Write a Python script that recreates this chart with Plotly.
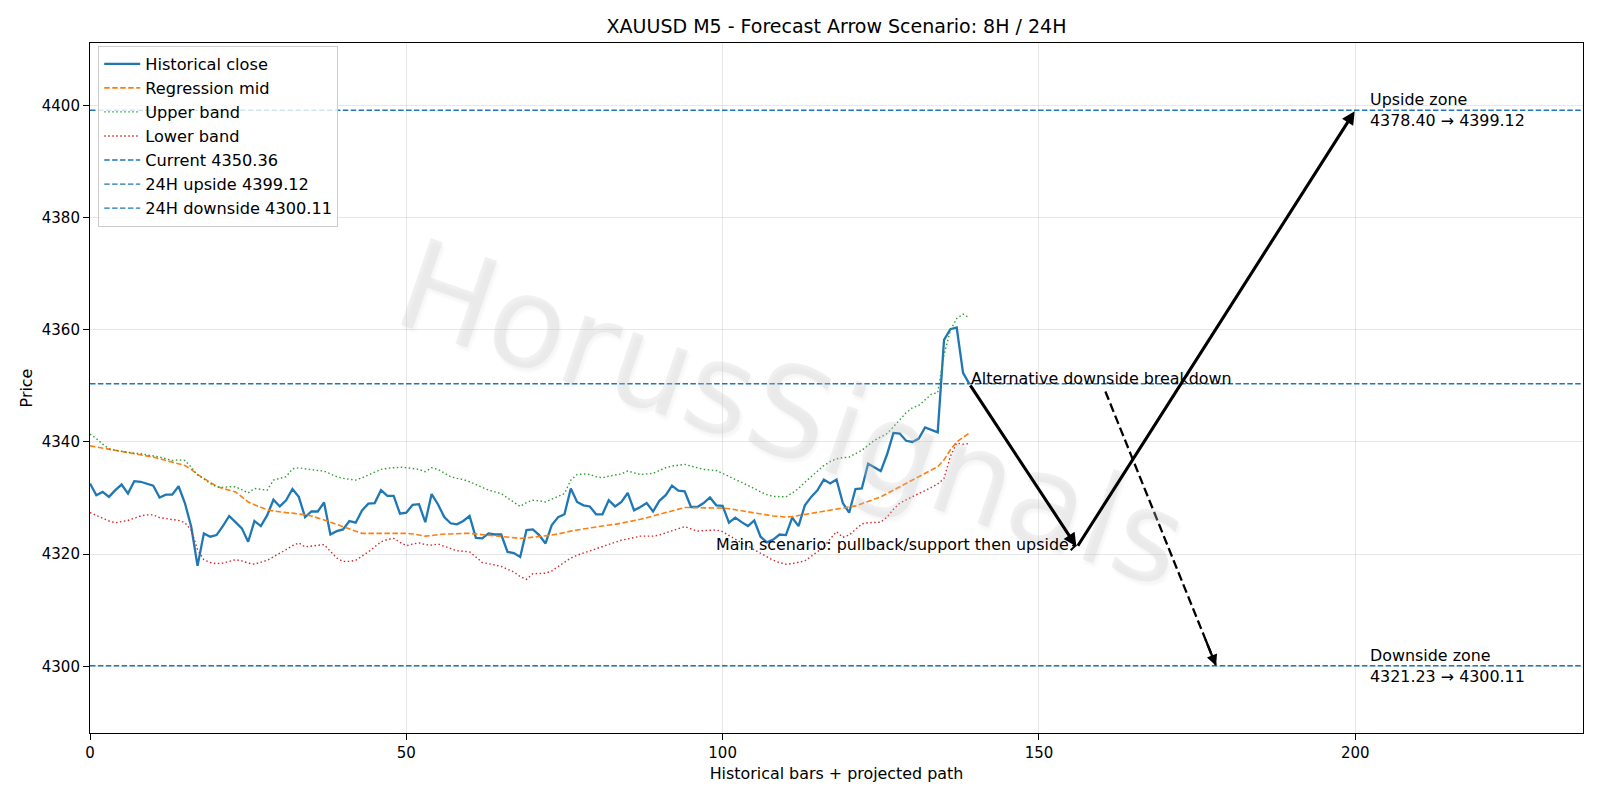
import plotly.graph_objects as go

# ---------------- data ----------------
CLOSE = [
    4332.6, 4330.5, 4331.1, 4330.2, 4331.4, 4332.4, 4330.8, 4333.0, 4332.9, 4332.6,
    4332.2, 4330.1, 4330.6, 4330.6, 4332.1, 4329.1, 4324.9, 4317.9, 4323.7, 4323.1,
    4323.4, 4325.0, 4326.8, 4325.7, 4324.6, 4322.2, 4325.9, 4325.0, 4326.9, 4329.7,
    4328.5, 4329.6, 4331.6, 4330.2, 4326.6, 4327.6, 4327.6, 4329.2, 4323.5, 4324.1,
    4324.4, 4325.9, 4325.6, 4327.8, 4329.0, 4329.1, 4331.4, 4330.4, 4330.4, 4327.2,
    4327.4, 4328.8, 4328.9, 4325.7, 4330.7, 4328.9, 4326.6, 4325.5, 4325.3, 4325.9,
    4326.8, 4322.9, 4322.8, 4323.7, 4323.5, 4323.5, 4320.4, 4320.2, 4319.5, 4324.3,
    4324.4, 4323.4, 4321.9, 4325.2, 4326.6, 4327.1, 4331.7, 4329.3, 4328.7, 4328.5,
    4327.1, 4327.1, 4329.6, 4328.5, 4329.3, 4330.9, 4327.8, 4328.4, 4329.1, 4327.6,
    4329.5, 4330.5, 4332.2, 4331.3, 4331.2, 4328.4, 4328.4, 4329.1, 4330.1, 4328.7,
    4328.6, 4325.6, 4326.5, 4325.7, 4325.0, 4326.0, 4323.1, 4322.1, 4322.6, 4323.5,
    4323.4, 4326.5, 4325.0, 4328.7, 4330.2, 4331.4, 4333.3, 4332.6, 4333.3, 4329.1,
    4327.4, 4331.6, 4331.7, 4336.1, 4335.5, 4334.8, 4337.8, 4341.6, 4341.5, 4340.2,
    4340.0, 4340.6, 4342.6, 4342.1, 4341.7, 4358.2, 4360.1, 4360.4, 4352.3, 4350.36,
]
MID = [
    4339.3, 4339.1, 4339.0, 4338.8, 4338.6, 4338.4, 4338.2, 4338.0, 4337.8, 4337.6,
    4337.3, 4337.0, 4336.7, 4336.4, 4336.1, 4335.8, 4335.1, 4334.2, 4333.5, 4332.8,
    4332.1, 4331.7, 4331.4, 4331.1, 4330.2, 4329.3, 4328.8, 4328.3, 4327.9, 4327.7,
    4327.5, 4327.4, 4327.3, 4327.2, 4327.0, 4326.8, 4326.5, 4326.1, 4325.7, 4325.3,
    4325.0, 4324.6, 4324.1, 4323.7, 4323.7, 4323.7, 4323.7, 4323.8, 4323.8, 4323.8,
    4323.7, 4323.6, 4323.4, 4323.2, 4323.3, 4323.5, 4323.6, 4323.6, 4323.7, 4323.7,
    4323.7, 4323.6, 4323.5, 4323.4, 4323.3, 4323.2, 4323.0, 4322.9, 4322.8, 4322.9,
    4323.0, 4323.1, 4323.2, 4323.4, 4323.6, 4323.9, 4324.1, 4324.3, 4324.5, 4324.7,
    4324.9, 4325.0, 4325.2, 4325.3, 4325.5, 4325.7, 4326.0, 4326.2, 4326.5, 4326.8,
    4327.0, 4327.3, 4327.6, 4328.0, 4328.3, 4328.3, 4328.3, 4328.3, 4328.3, 4328.3,
    4328.2, 4328.1, 4327.9, 4327.7, 4327.5, 4327.3, 4327.1, 4326.9, 4326.8, 4326.7,
    4326.6, 4326.7, 4326.9, 4327.0, 4327.2, 4327.4, 4327.6, 4327.9, 4328.1, 4328.2,
    4328.4, 4328.6, 4329.0, 4329.4, 4329.8, 4330.2, 4330.8, 4331.4, 4332.0, 4332.6,
    4333.1, 4333.7, 4334.3, 4334.9, 4335.6, 4336.8, 4338.6, 4340.0, 4340.8, 4341.6,
]
UPPER = [
    4341.4, 4340.6, 4339.6, 4338.8, 4338.5, 4338.3, 4338.2, 4338.0, 4337.9, 4337.7,
    4337.6, 4337.3, 4337.0, 4336.7, 4336.8, 4336.7, 4335.5, 4334.1, 4333.4, 4332.6,
    4332.0, 4331.9, 4332.0, 4332.0, 4331.5, 4330.9, 4331.7, 4331.6, 4331.4, 4333.2,
    4333.5, 4333.8, 4335.2, 4335.4, 4335.2, 4335.0, 4334.9, 4334.8, 4334.3, 4333.8,
    4333.5, 4333.3, 4333.2, 4333.6, 4334.1, 4334.6, 4335.1, 4335.3, 4335.4, 4335.5,
    4335.4, 4335.3, 4335.1, 4334.7, 4335.4, 4335.1, 4334.5, 4333.8, 4333.5, 4333.3,
    4332.9, 4332.4, 4331.9, 4331.4, 4331.1, 4330.8, 4330.0, 4329.2, 4328.5, 4329.2,
    4329.6, 4329.5, 4329.3, 4329.8, 4330.3, 4330.8, 4333.2, 4334.2, 4334.3, 4334.2,
    4333.8, 4333.6, 4333.9, 4334.1, 4334.3, 4334.8, 4334.5, 4334.2, 4334.3, 4334.4,
    4334.9, 4335.4, 4335.7, 4335.9, 4336.0, 4335.7, 4335.4, 4335.1, 4335.0, 4334.9,
    4334.4, 4333.8, 4333.3, 4332.8, 4332.3, 4331.7, 4331.1, 4330.6, 4330.3, 4330.2,
    4330.2, 4330.9, 4331.7, 4332.8, 4333.8, 4334.8, 4335.8, 4336.5, 4337.0, 4337.2,
    4337.3, 4337.9, 4338.5, 4339.4, 4340.3, 4340.9, 4341.5, 4342.7, 4343.9, 4345.2,
    4346.1, 4346.5, 4347.5, 4348.5, 4348.8, 4355.5, 4359.9, 4362.0, 4362.8, 4362.1,
]
LOWER = [
    4327.4, 4326.9, 4326.4, 4325.9, 4325.6, 4325.8, 4326.0, 4326.4, 4326.8, 4327.0,
    4327.0, 4326.5, 4326.3, 4326.2, 4326.0, 4325.6, 4324.3, 4320.8, 4319.0, 4318.5,
    4318.3, 4318.4, 4318.7, 4319.0, 4318.8, 4318.4, 4318.2, 4318.5, 4318.9, 4319.5,
    4320.1, 4320.8, 4321.5, 4322.0, 4321.3, 4321.4, 4321.6, 4321.7, 4320.5, 4319.3,
    4318.7, 4318.7, 4318.9, 4319.6, 4320.4, 4321.3, 4322.2, 4322.6, 4322.8, 4322.1,
    4321.5, 4321.8, 4322.0, 4321.7, 4321.6, 4321.8, 4321.4, 4320.9, 4320.6, 4320.5,
    4320.4, 4319.5, 4318.5, 4318.3, 4318.1, 4317.8, 4317.3, 4316.8, 4316.0, 4315.5,
    4316.5, 4316.6, 4316.6, 4317.0, 4317.8, 4318.6, 4319.3, 4319.8, 4320.2, 4320.6,
    4321.0, 4321.4, 4321.8, 4322.2, 4322.5, 4322.7, 4323.0, 4323.2, 4323.2, 4323.2,
    4323.4, 4323.8, 4324.2, 4324.6, 4324.9, 4324.5, 4324.1, 4324.2, 4324.3, 4324.3,
    4324.0, 4323.3, 4322.6, 4322.0, 4321.4, 4320.8, 4320.1, 4319.5, 4318.9, 4318.5,
    4318.2, 4318.3, 4318.5, 4318.8, 4319.6, 4320.4, 4321.3, 4322.7, 4324.0, 4323.0,
    4323.4, 4324.4, 4325.4, 4325.6, 4325.7, 4325.7, 4326.6, 4328.0, 4329.1, 4329.7,
    4330.3, 4330.8, 4331.3, 4331.9, 4332.5, 4333.5, 4337.4, 4339.8, 4339.6, 4339.7,
]
BARS = list(range(len(CLOSE)))

CURRENT = 4350.36
UP_24H = 4399.12
DOWN_24H = 4300.11
UP_ZONE = (4378.40, 4399.12)
DOWN_ZONE = (4321.23, 4300.11)

# scenario paths (bar index, price)
MAIN_X = [139, 156, 200]
MAIN_Y = [4350.36, 4321.23, 4399.12]
ALT_X = [160.5, 178]
ALT_Y = [4349.0, 4300.11]
ZONE_TEXT_X = 202

X_RANGE = [0, 236]
Y_RANGE = [4288.11, 4411.12]
X_TICKS = [0, 50, 100, 150, 200]
Y_TICKS = [4300, 4320, 4340, 4360, 4380, 4400]

FONT = "DejaVu Sans"
TXT = 15.9
BLUE = "#1f77b4"

fig = go.Figure()

fig.add_trace(go.Scatter(x=BARS, y=CLOSE, mode="lines", name="Historical close",
                         line=dict(color=BLUE, width=2.3)))
fig.add_trace(go.Scatter(x=BARS, y=MID, mode="lines", name="Regression mid",
                         line=dict(color="#ff7f0e", width=1.6, dash="5.5px,2.5px")))
fig.add_trace(go.Scatter(x=BARS, y=UPPER, mode="lines", name="Upper band",
                         line=dict(color="#2ca02c", width=1.4, dash="1.5px,2.5px")))
fig.add_trace(go.Scatter(x=BARS, y=LOWER, mode="lines", name="Lower band",
                         line=dict(color="#d62728", width=1.4, dash="1.5px,2.5px")))
for label, val in [("Current", CURRENT), ("24H upside", UP_24H), ("24H downside", DOWN_24H)]:
    fig.add_trace(go.Scatter(x=X_RANGE, y=[val, val], mode="lines",
                             name=f"{label} {val:.2f}",
                             line=dict(color=BLUE, width=1.4, dash="5.5px,2.4px")))

# alternative dashed path
fig.add_trace(go.Scatter(x=ALT_X, y=ALT_Y, mode="lines", showlegend=False, hoverinfo="skip",
                         line=dict(color="black", width=2.3, dash="9px,4px")))

annotations = []
# watermark
annotations.append(dict(x=111, y=4345, xref="x", yref="y", text="HorusSignals",
                        showarrow=False, textangle=19,
                        font=dict(family=FONT, size=126, color="rgba(200,200,200,0.25)",
                                  shadow="3px 3px 3px rgba(150,150,150,0.35)")))
# main scenario arrows
for k in range(len(MAIN_X) - 1):
    annotations.append(dict(x=MAIN_X[k + 1], y=MAIN_Y[k + 1], ax=MAIN_X[k], ay=MAIN_Y[k],
                            xref="x", yref="y", axref="x", ayref="y", text="",
                            showarrow=True, arrowhead=2, arrowsize=0.85, arrowwidth=3.1,
                            arrowcolor="black", standoff=1, startstandoff=0))
# alternative arrow head
annotations.append(dict(x=ALT_X[1], y=ALT_Y[1],
                        ax=ALT_X[1] - 0.1 * (ALT_X[1] - ALT_X[0]),
                        ay=ALT_Y[1] - 0.1 * (ALT_Y[1] - ALT_Y[0]),
                        xref="x", yref="y", axref="x", ayref="y", text="",
                        showarrow=True, arrowhead=2, arrowsize=0.95, arrowwidth=2.3,
                        arrowcolor="black", standoff=0, startstandoff=0))
# main scenario label with tiny arrow
annotations.append(dict(x=MAIN_X[1] - 1, y=MAIN_Y[1], xref="x", yref="y",
                        text="Main scenario: pullback/support then upside",
                        showarrow=False, xanchor="right", yanchor="middle", yshift=3,
                        font=dict(family=FONT, size=TXT, color="black")))
annotations.append(dict(x=MAIN_X[1], y=MAIN_Y[1] + 0.3, ax=MAIN_X[1] - 1, ay=MAIN_Y[1] + 0.3,
                        xref="x", yref="y", axref="x", ayref="y", text="",
                        showarrow=True, arrowhead=4, arrowsize=1.4, arrowwidth=1.3,
                        arrowcolor="black", standoff=0))
annotations.append(dict(x=MAIN_X[0], y=CURRENT, xref="x", yref="y",
                        text="Alternative downside breakdown", showarrow=False,
                        xanchor="left", yanchor="bottom", yshift=-6,
                        font=dict(family=FONT, size=TXT, color="black")))
annotations.append(dict(x=ZONE_TEXT_X, y=UP_24H, xref="x", yref="y",
                        text=f"Upside zone<br>{UP_ZONE[0]:.2f} \u2192 {UP_ZONE[1]:.2f}",
                        showarrow=False, xanchor="left", yanchor="middle", align="left",
                        font=dict(family=FONT, size=TXT, color="black")))
annotations.append(dict(x=ZONE_TEXT_X, y=DOWN_24H, xref="x", yref="y",
                        text=f"Downside zone<br>{DOWN_ZONE[0]:.2f} \u2192 {DOWN_ZONE[1]:.2f}",
                        showarrow=False, xanchor="left", yanchor="middle", align="left",
                        font=dict(family=FONT, size=TXT, color="black")))

axis_common = dict(showline=True, linecolor="black", linewidth=1.1, mirror=True,
                   ticks="outside", ticklen=6, tickwidth=1.1, tickcolor="black",
                   showgrid=True, gridcolor="rgba(176,176,176,0.3)", gridwidth=1,
                   zeroline=False, tickfont=dict(family=FONT, size=15, color="black"))

fig.update_layout(
    width=1600, height=800,
    margin=dict(l=90, r=17, t=43, b=67),
    paper_bgcolor="white", plot_bgcolor="white",
    font=dict(family=FONT, size=TXT, color="black"),
    title=dict(text="XAUUSD M5 - Forecast Arrow Scenario: 8H / 24H",
               x=0.5, xref="paper", y=1 - 26 / 800, yanchor="middle",
               font=dict(family=FONT, size=19, color="black")),
    xaxis=dict(range=X_RANGE, tickvals=X_TICKS, automargin=False,
               title=dict(text="Historical bars + projected path", standoff=6,
                          font=dict(family=FONT, size=TXT)), **axis_common),
    yaxis=dict(range=Y_RANGE, tickvals=Y_TICKS, automargin=False,
               title=dict(text="Price", standoff=5, font=dict(family=FONT, size=TXT)),
               **axis_common),
    legend=dict(x=0.0055, y=0.996, xanchor="left", yanchor="top", itemwidth=36,
                bgcolor="rgba(255,255,255,0.8)", bordercolor="#cccccc", borderwidth=1,
                font=dict(family=FONT, size=16.2, color="black")),
    annotations=annotations,
    showlegend=True,
)

fig.write_html("out.html")
